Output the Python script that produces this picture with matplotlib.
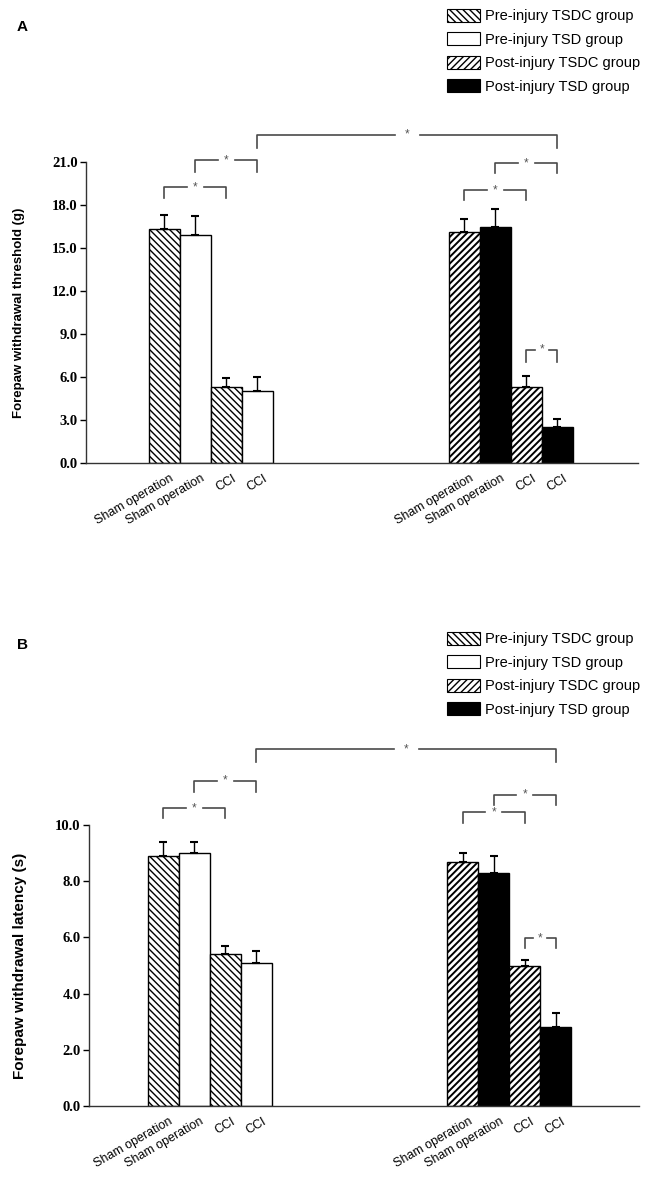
import matplotlib
matplotlib.use("Agg")
from matplotlib import pyplot as plt
from matplotlib.patches import Patch
from matplotlib.transforms import ScaledTranslation

plt.rcParams["font.family"] = ["Liberation Sans", "DejaVu Sans"]
plt.rcParams["hatch.linewidth"] = 1.0

conditions = ["Sham operation", "Sham operation", "CCI", "CCI"]
groups = ["Pre-injury TSDC group", "Pre-injury TSD group",
          "Post-injury TSDC group", "Post-injury TSD group"]

# panel A - forepaw withdrawal threshold (g), mean and upper error
threshold_pre = [16.3, 15.9, 5.3, 5.0]
threshold_pre_err = [1.0, 1.3, 0.6, 1.0]
threshold_post = [16.1, 16.5, 5.3, 2.5]
threshold_post_err = [0.9, 1.2, 0.8, 0.6]

# panel B - forepaw withdrawal latency (s)
latency_pre = [8.9, 9.0, 5.4, 5.1]
latency_pre_err = [0.5, 0.4, 0.3, 0.4]
latency_post = [8.7, 8.3, 5.0, 2.8]
latency_post_err = [0.3, 0.6, 0.2, 0.5]

# bar looks: (face, hatch, hatch line width)
styles = {
    "Pre-injury TSDC group": ("white", "\\\\\\\\\\", 1.0),
    "Pre-injury TSD group": ("white", "", 1.0),
    "Post-injury TSDC group": ("white", "/////", 1.4),
    "Post-injury TSD group": ("black", "", 1.0),
}
bar_groups = [groups[0], groups[1], groups[0], groups[1],
              groups[2], groups[3], groups[2], groups[3]]

# significance brackets: bar i, bar j, top y, leg end y, star gap
brackets_a = [(0, 2, 19.26, 18.5, 0.55), (1, 3, 21.14, 20.3, 0.55),
              (3, 7, 22.9, 21.98, 0.8), (4, 6, 19.05, 18.35, 0.55),
              (5, 7, 20.93, 20.24, 0.55), (6, 7, 7.89, 7.05, 0.45)]
brackets_b = [(0, 2, 10.60, 10.25, 0.55), (1, 3, 11.57, 11.17, 0.55),
              (3, 7, 12.70, 12.24, 0.8), (4, 6, 10.46, 10.07, 0.55),
              (5, 7, 11.07, 10.71, 0.55), (6, 7, 5.98, 5.62, 0.45)]

W, H = 656, 1179
fig = plt.figure(figsize=(W / 100, H / 100), dpi=100)


def hatch_width(patch, lw):
    if hasattr(patch, "set_hatch_linewidth"):
        patch.set_hatch_linewidth(lw)


def draw_panel(rect, pre, pre_err, post, post_err, ymax, step, ylabel,
               label_size, label_x, centers, xmax, brackets, letter,
               letter_y, legend_top):
    ax = fig.add_axes(rect)
    offsets = [-1.5, -0.5, 0.5, 1.5]
    xs = [centers[0] + o for o in offsets] + [centers[1] + o for o in offsets]
    vals = pre + post
    errs = pre_err + post_err
    for x, v, g in zip(xs, vals, bar_groups):
        face, hatch, hlw = styles[g]
        bars = ax.bar(x, v, width=1.0, color=face, edgecolor="black",
                      hatch=hatch, linewidth=1.0, zorder=2)
        for b in bars:
            hatch_width(b, hlw)
    ax.errorbar(xs, vals, yerr=[[0] * len(errs), errs], fmt="none",
                ecolor="black", elinewidth=1.0, capsize=2.6, capthick=1.5,
                zorder=3)

    for i, j, ytop, yleg, gap in brackets:
        x1, x2 = xs[i], xs[j]
        mid = (x1 + x2) / 2
        kw = dict(color="#4a4a4a", lw=1.2, clip_on=False, zorder=4)
        ax.plot([x1, x1, mid - gap / 2], [yleg, ytop, ytop], **kw)
        ax.plot([mid + gap / 2, x2, x2], [ytop, ytop, yleg], **kw)
        ax.text(mid, ytop, "*", ha="center", va="center", fontsize=8.5,
                color="#555555", clip_on=False)

    ax.set_xlim(0, xmax)
    ax.set_ylim(0, ymax)
    ax.spines["top"].set_visible(False)
    ax.spines["right"].set_visible(False)
    for side in ("left", "bottom"):
        ax.spines[side].set_linewidth(1.0)
        ax.spines[side].set_color("#333333")

    ticks = [k * step for k in range(int(round(ymax / step)) + 1)]
    ax.set_yticks(ticks)
    ax.set_yticklabels([f"{t:.1f}" for t in ticks], family="Liberation Serif",
                       fontweight="bold", fontsize=10.5)
    ax.tick_params(axis="y", direction="out", length=4, width=1.0, pad=2)

    ax.set_xticks(xs)
    ax.set_xticklabels(conditions * 2, fontsize=9)
    ax.tick_params(axis="x", length=0, pad=7)
    shift = ScaledTranslation(4 / 72, 0, fig.dpi_scale_trans)
    for lab in ax.get_xticklabels():
        lab.set_rotation(30)
        lab.set_ha("right")
        lab.set_rotation_mode("anchor")
        lab.set_transform(lab.get_transform() + shift)

    ax.set_ylabel(ylabel, fontweight="bold", fontsize=label_size)
    ax.yaxis.set_label_coords(label_x, 0.5)

    fig.text(17 / W, letter_y, letter, fontsize=11, fontweight="bold",
             ha="left", va="center")

    handles = []
    for g in groups:
        p = Patch(facecolor=styles[g][0], edgecolor="black",
                  hatch=styles[g][1], linewidth=0.8)
        hatch_width(p, styles[g][2])
        handles.append(p)
    fig.legend(handles, groups, loc="upper left",
               bbox_to_anchor=(447 / W, legend_top), frameon=False,
               fontsize=10.5, handlelength=2.25, handleheight=0.95,
               handletextpad=0.35, labelspacing=0.63, borderpad=0,
               borderaxespad=0)
    return ax


draw_panel([86 / W, 1 - 463 / H, 552 / W, 301 / H],
           threshold_pre, threshold_pre_err, threshold_post, threshold_post_err,
           21.0, 3.0, "Forepaw withdrawal threshold (g)", 9.5, -0.11,
           (4.03, 13.7), 17.8, brackets_a, "A", 1 - 27 / H, 1 - 9 / H)

draw_panel([89 / W, 1 - 1106 / H, 550 / W, 281 / H],
           latency_pre, latency_pre_err, latency_post, latency_post_err,
           10.0, 2.0, "Forepaw withdrawal latency (s)", 11, -0.113,
           (3.9, 13.56), 17.74, brackets_b, "B", 1 - 645 / H, 1 - 632 / H)

fig.savefig("out.png", dpi=100)
